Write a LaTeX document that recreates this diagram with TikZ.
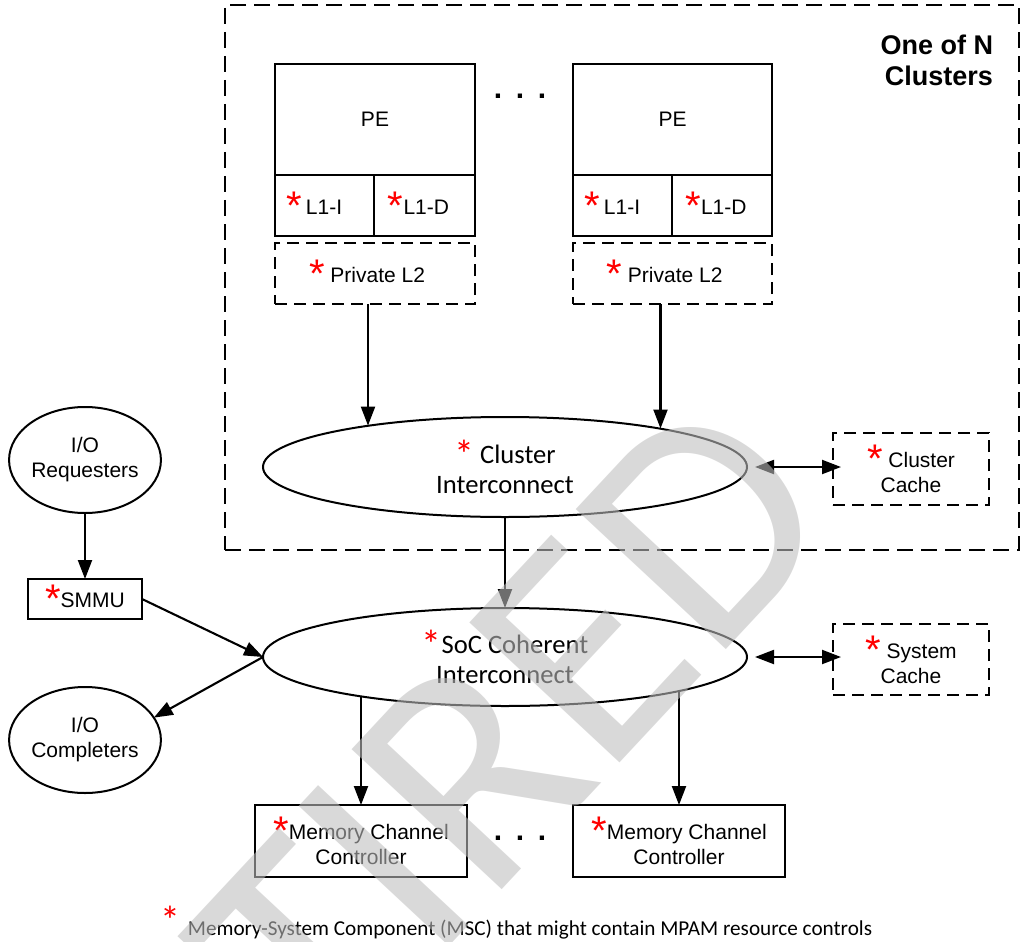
\documentclass[tikz,border=0pt]{standalone}
\usepackage{fontspec}
\setmainfont{Liberation Sans}
\newfontfamily\calibri{Carlito}
\usetikzlibrary{arrows.meta,shapes.geometric,calc}
\definecolor{wm}{gray}{0.745}
\newcommand\redstar{\raisebox{-2.6pt}{\color{red}\fontsize{20}{20}\selectfont *}}
\begin{document}
\begin{tikzpicture}[x=0.5pt,y=-0.5pt,
  every node/.style={inner sep=0pt, outer sep=0pt},
  base/.style={font=\fontsize{10.5}{12.5}\selectfont, align=center},
  box/.style={base, draw, line width=1pt},
  dbox/.style={base, draw, line width=1pt, dash pattern=on 6pt off 3.5pt},
  oval/.style={base, draw, ellipse, line width=1pt},
  calfont/.style={font=\calibri\fontsize{13.3}{16}\selectfont},
  arr/.style={line width=1.05pt, -{Triangle[length=9.5pt,width=7pt]}},
  darr/.style={line width=1.05pt, {Triangle[length=9.5pt,width=7pt]}-{Triangle[length=9.5pt,width=7pt]}},
  dots/.style={font=\bfseries\fontsize{15}{15}\selectfont},
]
\useasboundingbox (0,0) rectangle (1023,942);

% cluster region
\node[draw, line width=1pt, dash pattern=on 8pt off 4pt, minimum width=397pt, minimum height=272.5pt] (clus) at (622,277.5) {};
\node[font=\bfseries\fontsize{13.5}{15.5}\selectfont, align=right, anchor=north east] (title) at (993,35) {One of N\\Clusters};

% PE column 1
\node[box, minimum width=100pt, minimum height=55.5pt] (pe1) at (375,119.5) {PE};
\node[box, minimum width=49.5pt, minimum height=30.5pt] (l1i1) at (324.5,205.5) {\redstar\,L1-I\hspace{10pt}};
\node[box, minimum width=50.5pt, minimum height=30.5pt] (l1d1) at (424.5,205.5) {\redstar L1-D\hspace{6pt}};
\node[dbox, minimum width=100pt, minimum height=30.5pt] (l2a) at (375,273.5) {\redstar\ Private L2\hspace{8pt}};

% PE column 2
\node[box, minimum width=99.5pt, minimum height=55.5pt] (pe2) at (672.5,119.5) {PE};
\node[box, minimum width=49.5pt, minimum height=30.5pt] (l1i2) at (622.5,205.5) {\redstar\,L1-I\hspace{10pt}};
\node[box, minimum width=50pt, minimum height=30.5pt] (l1d2) at (722,205.5) {\redstar L1-D\hspace{6pt}};
\node[dbox, minimum width=99.5pt, minimum height=30.5pt] (l2b) at (672.5,273.5) {\redstar\ Private L2\hspace{8pt}};

\node[dots] (dots1) at (520,96) {.\hspace{6.8pt}.\hspace{6.8pt}.};

% interconnects
\node[oval, calfont, minimum width=242pt, minimum height=50pt] (ci) at (505,467) {\redstar\ Cluster\hspace{6pt}\\[-1pt]Interconnect};
\node[oval, calfont, minimum width=242pt, minimum height=49pt] (soc) at (505,657) {\redstar SoC Coherent\\[-1pt]Interconnect};

\node[dbox, minimum width=78pt, minimum height=36pt] (cc) at (911,469) {\redstar\ Cluster\hspace{4pt}\\Cache};
\node[dbox, minimum width=78pt, minimum height=35.5pt] (sc) at (911,659.5) {\redstar\ System\\Cache};

% I/O side
\node[oval, minimum width=72pt, minimum height=53pt] (ioreq) at (85,460) {I/O\\Requesters};
\node[box, minimum width=57pt, minimum height=20pt] (smmu) at (85,599) {\redstar SMMU};
\node[oval, minimum width=72pt, minimum height=53pt] (ioc) at (85,740) {I/O\\Completers};

% memory controllers
\node[box, minimum width=106pt, minimum height=36pt] (mc1) at (361,841) {\redstar Memory Channel\\Controller};
\node[box, minimum width=106pt, minimum height=36pt] (mc2) at (679,841) {\redstar Memory Channel\\Controller};
\node[dots] (dots2) at (520,838) {.\hspace{6.8pt}.\hspace{6.8pt}.};

% footnote
\node[font=\calibri\fontsize{10.6}{12}\selectfont, anchor=base west] (fn) at (160,935) {\raisebox{3pt}{\redstar}\hspace{4pt}Memory-System Component (MSC) that might contain MPAM resource controls};

% connectors
\draw[arr] ([xshift=-3.5pt]l2a.south) -- ([xshift=-3.5pt]l2a.south |- ci.163);
\draw[arr] ([xshift=-6pt]l2b.south) -- ([xshift=-6pt]l2b.south |- ci.14);
\draw[arr] (ci.south) -- (soc.north);
\draw[darr] ([xshift=4pt]ci.east) -- ([xshift=4pt]ci.east -| cc.west);
\draw[darr] ([xshift=4pt]soc.east) -- ([xshift=4pt]soc.east -| sc.west);
\draw[arr] (ioreq.south) -- (smmu.north);
\draw[arr] (smmu.east) -- (soc.west);
\draw[arr] (soc.west) -- (ioc.18);
\draw[arr] (mc1.north |- soc.195) -- (mc1.north);
\draw[arr] (mc2.north |- soc.-11) -- (mc2.north);

% watermark
\node[rotate=47, anchor=base west, text=wm, text opacity=0.58, font=\calibri\fontsize{160}{160}\selectfont] (wm) at (100,1321) {RETIRED};
\end{tikzpicture}
\end{document}
